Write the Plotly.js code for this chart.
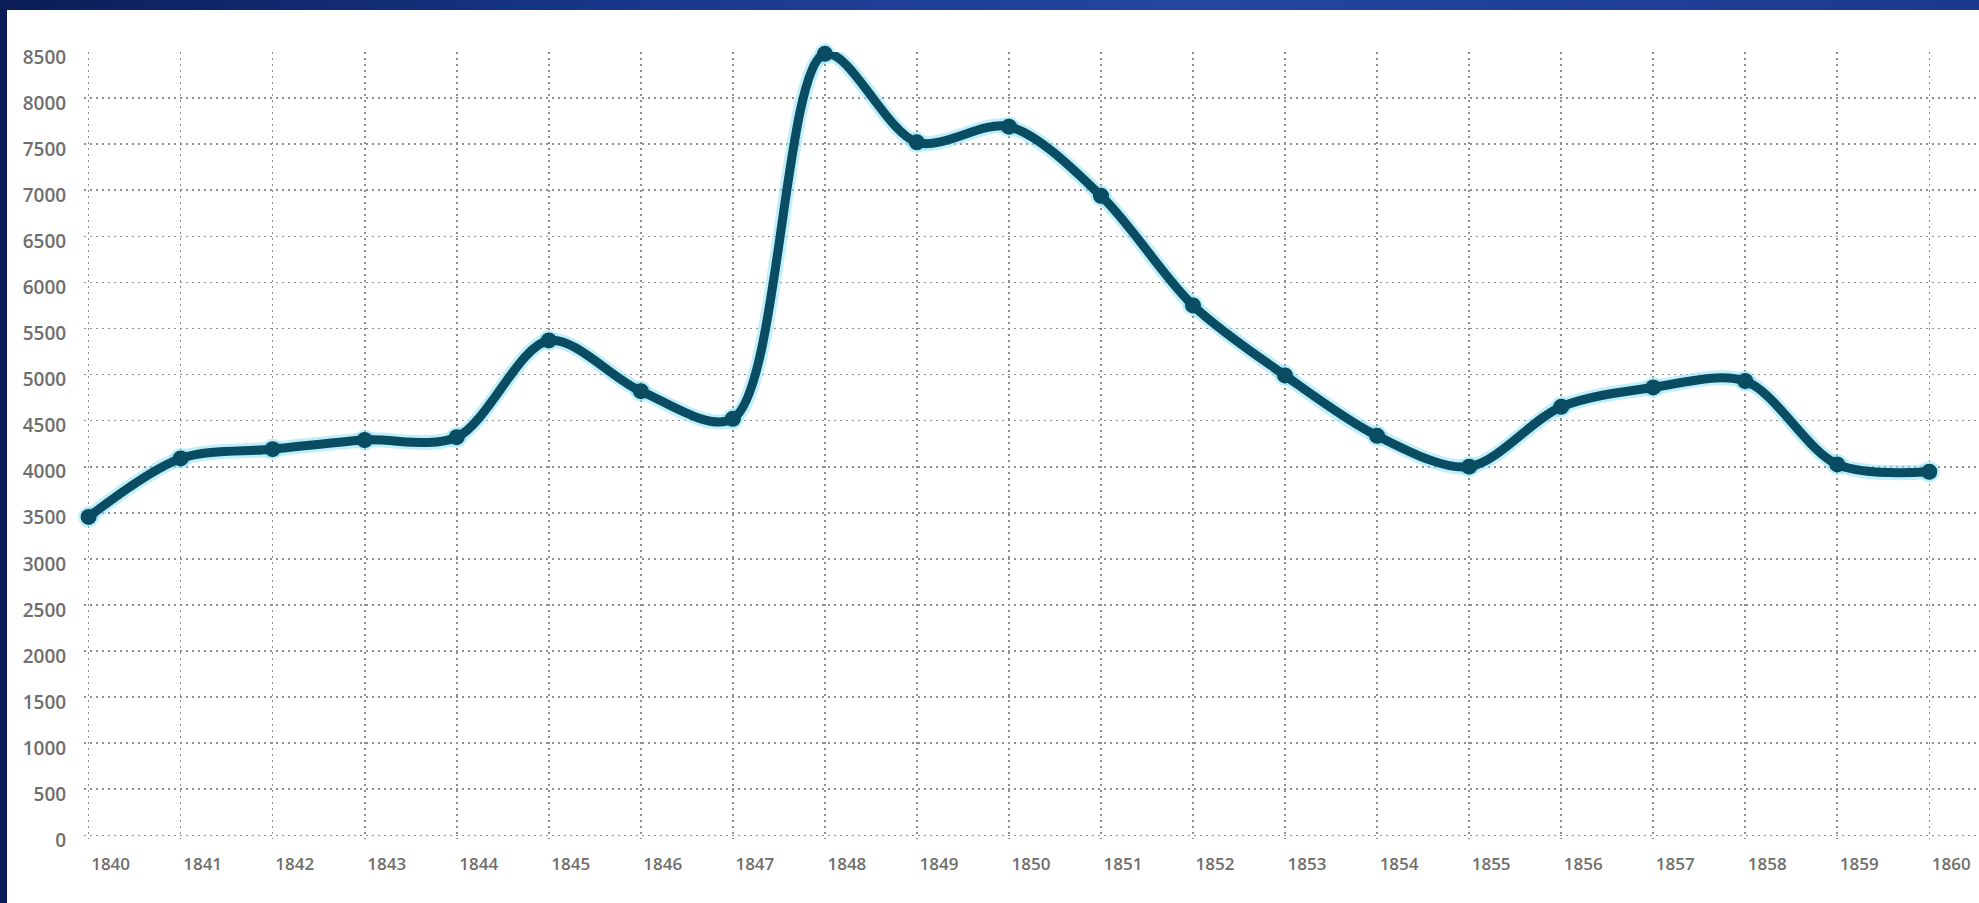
<!DOCTYPE html>
<html>
<head>
<meta charset="utf-8">
<script src="https://cdn.plot.ly/plotly-3.0.1.min.js"></script>
<style>
  html, body { margin: 0; padding: 0; width: 1979px; height: 903px; overflow: hidden;
    background: linear-gradient(90deg, #0a1d57 0%, #1a3a8e 35%, #24469f 60%, #1a3a8e 100%); }
  #panel { position: absolute; left: 7px; top: 10px; right: 0; bottom: 0; background: #ffffff; }
  #chart { position: absolute; left: 0; top: 0; width: 1979px; height: 903px; }
</style>
</head>
<body>
<div id="panel"></div>
<div id="chart"></div>
<script>
// Data
const years = [1840, 1841, 1842, 1843, 1844, 1845, 1846, 1847, 1848, 1849, 1850,
               1851, 1852, 1853, 1854, 1855, 1856, 1857, 1858, 1859, 1860];
const values = [3455, 4090, 4190, 4290, 4320, 5370, 4820, 4520, 8480, 7520, 7690,
                6940, 5750, 4990, 4335, 4000, 4650, 4860, 4930, 4025, 3945];
const yTickVals = [0, 500, 1000, 1500, 2000, 2500, 3000, 3500, 4000, 4500,
                   5000, 5500, 6000, 6500, 7000, 7500, 8000, 8500];
const xTickVals = years;

const lineColor = '#0a4c62';
const glowColor = 'rgba(140, 225, 245, 0.55)';

const traces = [
  {
    x: years, y: values, type: 'scatter', mode: 'lines+markers',
    line: { color: glowColor, width: 15, shape: 'spline', smoothing: 0.9 },
    marker: { color: glowColor, size: 21 },
    cliponaxis: false, hoverinfo: 'skip', showlegend: false
  },
  {
    x: years, y: values, type: 'scatter', mode: 'lines+markers',
    line: { color: lineColor, width: 9, shape: 'spline', smoothing: 0.9 },
    marker: { color: lineColor, size: 16 },
    cliponaxis: false, showlegend: false
  }
];

const gridStyle = { showgrid: true, gridcolor: '#8e8e8e', gridwidth: 1.6, griddash: '2px,4px' };

// 92 px per year, 46.06 px per 500 units; ranges padded slightly so edge grid lines are drawn
const layout = {
  width: 1979, height: 903,
  paper_bgcolor: 'rgba(0,0,0,0)',
  plot_bgcolor: 'rgba(0,0,0,0)',
  margin: { l: 84.4, r: 0, t: 52, b: 64.3 },
  font: { family: 'Open Sans, sans-serif', color: '#6e6e6e', size: 17 },
  xaxis: Object.assign({
    range: [1839.95, 1860.54],
    tickvals: xTickVals,
    ticktext: xTickVals.map(String),
    zeroline: false, showline: false,
    ticks: 'outside', ticklen: 10, tickcolor: 'rgba(0,0,0,0)',
    ticklabelshift: 22,
    tickfont: { size: 17, color: '#6e6e6e', weight: 600 }
  }, gridStyle),
  yaxis: Object.assign({
    range: [-40, 8500],
    tickvals: yTickVals,
    ticktext: yTickVals.map(String),
    zeroline: false, showline: false,
    ticks: 'outside', ticklen: 13, tickcolor: 'rgba(0,0,0,0)',
    ticklabelshift: 5,
    tickfont: { size: 19, color: '#6e6e6e', weight: 600 }
  }, gridStyle)
};

Plotly.newPlot('chart', traces, layout, { displayModeBar: false, staticPlot: true });
</script>
</body>
</html>
